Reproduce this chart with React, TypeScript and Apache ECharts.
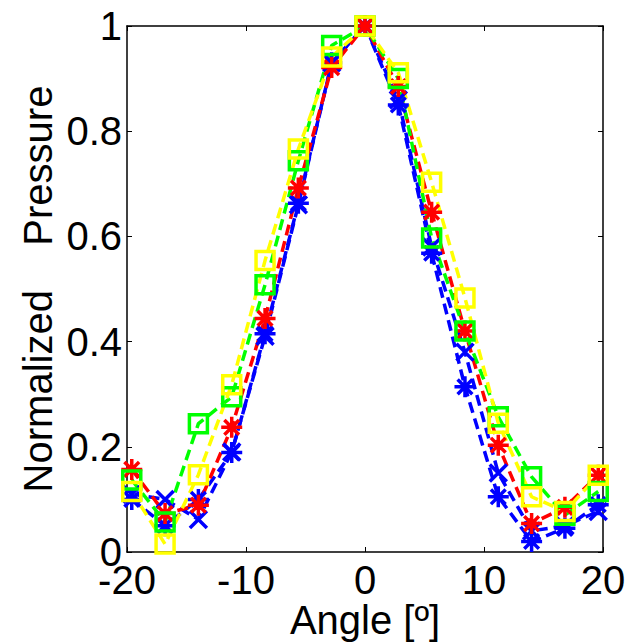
import React, { useEffect, useRef } from "react";
import * as echarts from "echarts";

const angles = [-19.6, -16.8, -14, -11.2, -8.4, -5.6, -2.8, 0, 2.8, 5.6, 8.4, 11.2, 14, 16.8, 19.6];
const blueX = [0.11, 0.1, 0.062, 0.19, 0.41, 0.66, 0.93, 1, 0.86, 0.58, 0.38, 0.15, 0.04, 0.05, 0.077];
const blueStar = [0.1, 0.05, 0.1, 0.189, 0.415, 0.663, 0.93, 1, 0.85, 0.568, 0.314, 0.105, 0.02, 0.045, 0.09];
const red = [0.157, 0.073, 0.089, 0.237, 0.444, 0.692, 0.921, 1, 0.885, 0.646, 0.42, 0.203, 0.054, 0.085, 0.146];
const green = [0.137, 0.057, 0.244, 0.295, 0.508, 0.744, 0.963, 1, 0.9, 0.597, 0.42, 0.257, 0.143, 0.07, 0.115];
const yellow = [0.115, 0.015, 0.147, 0.318, 0.554, 0.766, 0.941, 1, 0.911, 0.703, 0.483, 0.245, 0.105, 0.077, 0.146];

const xTitle = "Angle [º]";
const yTitle = "Normalized    Pressure";

const ASTERISK = "path://M0,-10L0,10M-10,0L10,0M-7,-7L7,7M-7,7L7,-7";
const CROSS = "path://M-10,-10L10,10M-10,10L10,-10";

const FONT = "Liberation Sans, Arial, sans-serif";

function makeSeries(name: string, values: number[], color: string, symbol: string, size: number) {
  return {
    name,
    type: "line",
    data: angles.map((a, i) => [a, values[i]]),
    symbol,
    symbolSize: size,
    showAllSymbol: true,
    lineStyle: { color, width: 3.5, type: [11, 6] },
    itemStyle: { color: "rgba(0,0,0,0)", borderColor: color, borderWidth: 3.5 },
    emphasis: { disabled: true },
    silent: true,
  };
}

export default function App() {
  const ref = useRef<HTMLDivElement>(null);
  useEffect(() => {
    if (!ref.current) return;
    const chart = echarts.init(ref.current, null, { renderer: "svg" });
    const axisCommon = {
      type: "value",
      splitLine: { show: false },
      axisLine: { show: true, onZero: false, lineStyle: { color: "#000", width: 1.5 } },
      axisTick: { show: true, inside: true, length: 5, lineStyle: { color: "#000", width: 1 } },
    };
    chart.setOption({
      animation: false,
      backgroundColor: "#fff",
      grid: { left: 127, right: 26, top: 26, bottom: 92, containLabel: false, outerBoundsMode: "none" },
      xAxis: [
        {
          ...axisCommon,
          min: -20,
          max: 20,
          interval: 10,
          position: "bottom",
          axisLabel: { color: "#000", fontSize: 40, fontFamily: FONT, margin: 8 },
        },
        {
          ...axisCommon,
          min: -20,
          max: 20,
          interval: 10,
          position: "top",
          axisLabel: { show: false },
        },
      ],
      yAxis: [
        {
          ...axisCommon,
          min: 0,
          max: 1,
          interval: 0.2,
          position: "left",
          axisLabel: { color: "#000", fontSize: 40, fontFamily: FONT, margin: 5 },
        },
        {
          ...axisCommon,
          min: 0,
          max: 1,
          interval: 0.2,
          position: "right",
          axisLabel: { show: false },
        },
      ],
      series: [
        makeSeries("blueX", blueX, "#0000ff", CROSS, 17),
        makeSeries("blueStar", blueStar, "#0000ff", ASTERISK, 21),
        makeSeries("red", red, "#ff0000", ASTERISK, 21),
        makeSeries("green", green, "#00ff00", "rect", 18),
        makeSeries("yellow", yellow, "#ffff00", "rect", 18),
      ],
      graphic: [
        {
          type: "text",
          x: 365,
          y: 620,
          style: { text: xTitle, fill: "#000", font: `40px ${FONT}`, textAlign: "center", textVerticalAlign: "middle" },
        },
        {
          type: "text",
          x: 38,
          y: 289,
          rotation: Math.PI / 2,
          style: { text: yTitle, fill: "#000", font: `40px ${FONT}`, textAlign: "center", textVerticalAlign: "middle" },
        },
      ],
    });
    return () => chart.dispose();
  }, []);
  return <div ref={ref} style={{ width: 629, height: 644, position: "absolute", left: 0, top: 0 }} />;
}
